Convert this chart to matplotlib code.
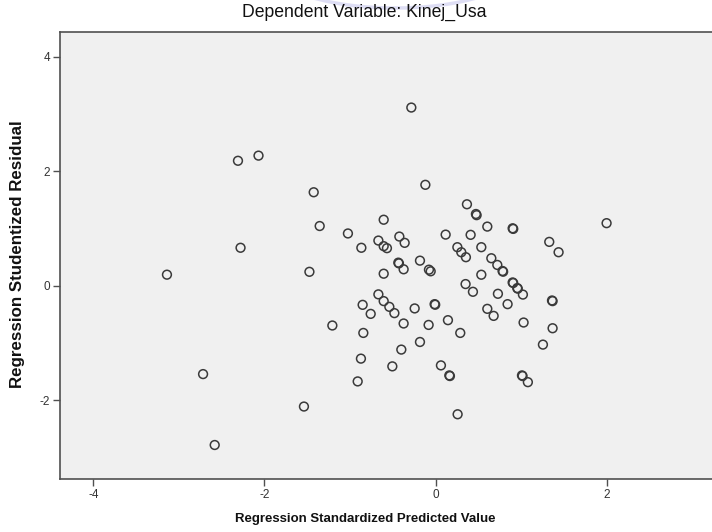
import matplotlib
matplotlib.use("Agg")
import matplotlib.pyplot as plt
from matplotlib.patches import Ellipse

# Regression Standardized Predicted Value (x) and Studentized Residual (y)
pred = [-2.31, -2.07, -1.425, -1.355, -1.025, -0.868, -2.28, -3.14, -1.475,
        -0.284, -0.12, 0.366, 0.471, 0.479, -0.607, 0.604, 0.900, 0.907, 1.998,
        0.117, 0.409, -0.424, -0.362, -0.669, -0.607, -0.569, 1.328, 1.437,
        0.254, 0.534, 0.300, 0.354, -0.436, -0.429, -0.374, -0.183, -0.078,
        -0.058, 0.651, 0.721, 0.782, 0.789, -0.607, 0.534, 0.350, 0.436,
        0.900, 0.907, 0.954, 0.960, 1.020, 0.728, -0.669, 1.360, 1.367,
        -0.607, -0.541, -0.482, -0.759, -0.245, -0.012, -0.005, 0.604, 0.678,
        0.841, -0.374, -0.082, 0.144, 0.288, 1.028, 1.367, 1.254, -0.183,
        -0.401, -0.506, 0.062, 0.160, 0.167, 1.009, 1.016, 1.078, 0.257,
        -0.853, -1.207, -0.845, -0.873, -0.911, -1.539, -2.718, -2.582]
resid = [2.18, 2.27, 1.63, 1.04, 0.91, 0.66, 0.66, 0.19, 0.24,
         3.11, 1.76, 1.42, 1.25, 1.23, 1.15, 1.03, 1.00, 0.99, 1.09,
         0.89, 0.886, 0.856, 0.746, 0.786, 0.688, 0.653, 0.763, 0.582,
         0.670, 0.670, 0.582, 0.495, 0.40, 0.388, 0.284, 0.435, 0.277,
         0.249, 0.477, 0.360, 0.254, 0.242, 0.207, 0.189, 0.026, -0.109,
         0.054, 0.044, -0.044, -0.054, -0.158, -0.144, -0.154, -0.261, -0.272,
         -0.272, -0.372, -0.482, -0.495, -0.400, -0.325, -0.335, -0.407, -0.530,
         -0.325, -0.663, -0.688, -0.605, -0.828, -0.646, -0.746, -1.032, -0.986,
         -1.119, -1.412, -1.395, -1.570, -1.581, -1.570, -1.581, -1.688, -2.249,
         -0.337, -0.698, -0.828, -1.277, -1.675, -2.114, -1.547, -2.786]

x_ticks = [-4, -2, 0, 2]
y_ticks = [-2, 0, 2, 4]

title = "Dependent Variable: Kinej_Usa"
xlabel = "Regression Standardized Predicted Value"
ylabel = "Regression Studentized Residual"

plt.rcParams['font.family'] = ['Liberation Sans', 'DejaVu Sans']

fig = plt.figure(figsize=(7.12, 5.32), dpi=100)
fig.patch.set_facecolor('white')

# faint watermark arc at the top
ell = Ellipse((395 / 712, 562 / 532), 240 / 712, 76 / 532, transform=fig.transFigure,
              fill=False, edgecolor='#c9c9ee', linewidth=2.5, alpha=0.6)
fig.patches.append(ell)

ax = fig.add_axes([60 / 712, 53 / 532, 1 - 60 / 712, (479 - 32) / 532])
ax.set_facecolor('#f0f0f0')
ax.scatter(pred, resid, s=40, facecolors='none', edgecolors='#3a3a3a', linewidths=1.1, zorder=3)

ax.set_xlim(-4.39, 3.23)
ax.set_ylim(-3.38, 4.43)
ax.set_xticks(x_ticks)
ax.set_yticks(y_ticks)
ax.set_xticklabels([str(t) for t in x_ticks])
ax.set_yticklabels([str(t) for t in y_ticks])

for side in ['left', 'bottom', 'top']:
    ax.spines[side].set_color('#505050')
    ax.spines[side].set_linewidth(1.2)
ax.spines['right'].set_visible(False)

ax.tick_params(axis='both', direction='out', length=5, width=1, color='#505050',
               labelsize=8.5, labelcolor='#333333', pad=2)

t_title = fig.text(364 / 712, 1 - 12 / 532, title, ha='center', va='center',
                   fontsize=12, color='#111111')
t_x = fig.text(365 / 712, 1 - 519 / 532, xlabel, ha='center', va='center',
               fontsize=11, fontweight='bold', color='#111111')
t_y = fig.text(18 / 712, 1 - 254 / 532, ylabel, ha='center', va='center', rotation=90,
               fontsize=11, fontweight='bold', color='#111111')

# fit text sizes to extents measured in the reference
fig.canvas.draw()
r = fig.canvas.get_renderer()
for t, target, use_h in [(t_title, 245, False), (t_x, 262, False), (t_y, 268, True)]:
    bb = t.get_window_extent(r)
    cur = bb.height if use_h else bb.width
    t.set_fontsize(t.get_fontsize() * target / cur)

fig.savefig('out.png', dpi=100, facecolor='white')
